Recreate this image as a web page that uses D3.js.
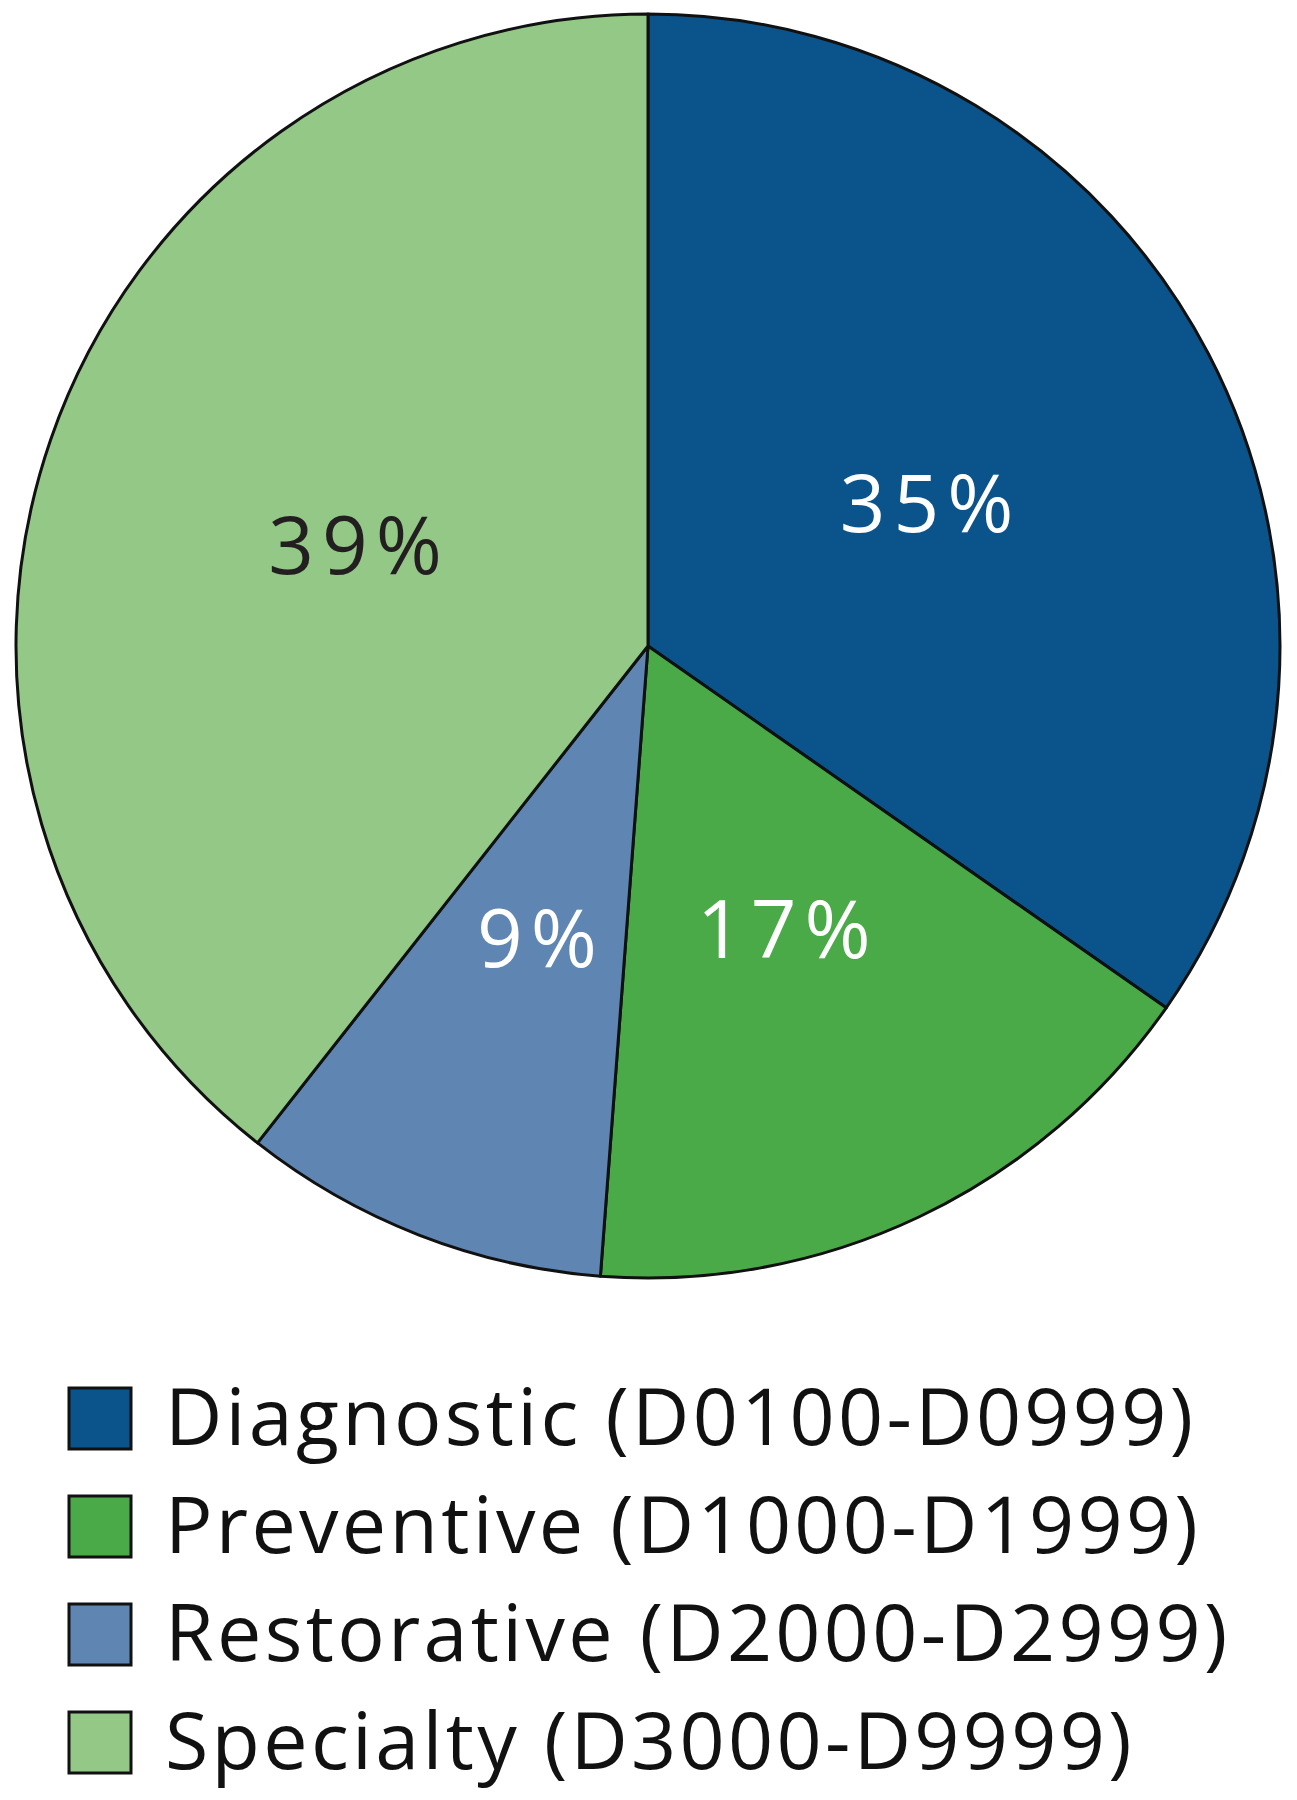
<!DOCTYPE html>
<html>
<head>
<meta charset="utf-8">
<script src="https://cdn.jsdelivr.net/npm/d3@7"></script>
<style>
  body { margin: 0; background: #fff; }
  text { font-family: "Open Sans", "Noto Sans", sans-serif; }
</style>
</head>
<body>
<script>
// Data (shares; labels as printed)
var categories = ["Diagnostic (D0100-D0999)", "Preventive (D1000-D1999)",
                  "Restorative (D2000-D2999)", "Specialty (D3000-D9999)"];
var shares = [34.7, 16.5, 9.4, 39.4];
var pctLabels = ["35%", "17%", "9%", "39%"];
var colors = ["#0b548b", "#4aaa48", "#5f86b2", "#93c887"];
var labelColors = ["#ffffff", "#ffffff", "#ffffff", "#231f20"];

var width = 1297;
var height = 1800;
var cx = 648, cy = 646, radius = 632;

var data = categories.map(function(c, i) {
    return { name: c, value: shares[i], label: pctLabels[i], color: colors[i], textColor: labelColors[i] };
});

var svg = d3.select("body")
            .append("svg")
            .attr("width", width)
            .attr("height", height);

var pie = d3.pie()
            .sort(null)
            .value(function(d) { return d.value; });

var arc = d3.arc()
            .innerRadius(0)
            .outerRadius(radius);

var labelArc = d3.arc()
            .innerRadius(312)
            .outerRadius(312);

var g = svg.append("g")
           .attr("transform", "translate(" + cx + "," + cy + ")");

var arcs = pie(data);

g.selectAll("path")
 .data(arcs)
 .enter()
 .append("path")
 .attr("d", arc)
 .attr("fill", function(d) { return d.data.color; })
 .attr("stroke", "#111")
 .attr("stroke-width", 3)
 .attr("stroke-linejoin", "round");

g.selectAll("text.pct")
 .data(arcs)
 .enter()
 .append("text")
 .attr("class", "pct")
 .attr("transform", function(d) {
     var c = labelArc.centroid(d);
     return "translate(" + (c[0] + 6) + "," + (c[1] + 30) + ")";
 })
 .attr("text-anchor", "middle")
 .attr("font-size", 80)
 .attr("letter-spacing", 8)
 .attr("fill", function(d) { return d.data.textColor; })
 .text(function(d) { return d.data.label; });

// Legend
var legendY = d3.scaleBand()
                .domain(categories)
                .range([1388, 1820])
                .paddingInner(0);

var legend = svg.selectAll("g.legend")
                .data(data)
                .enter()
                .append("g")
                .attr("class", "legend")
                .attr("transform", function(d) { return "translate(69," + legendY(d.name) + ")"; });

legend.append("rect")
      .attr("width", 62)
      .attr("height", 61)
      .attr("fill", function(d) { return d.color; })
      .attr("stroke", "#111")
      .attr("stroke-width", 3);

legend.append("text")
      .attr("x", 96)
      .attr("y", 57)
      .attr("font-size", 79)
      .attr("letter-spacing", 3.3)
      .attr("fill", "#111")
      .text(function(d) { return d.name; });
</script>
</body>
</html>
